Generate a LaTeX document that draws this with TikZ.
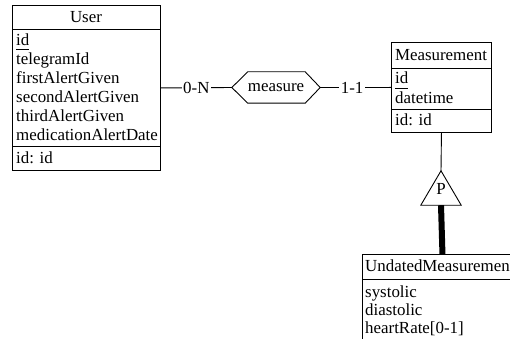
\documentclass[tikz,border=0pt]{standalone}
\usepackage{fontspec}
\setmainfont{Liberation Serif}
\newcommand\ulid[1]{\setbox0\hbox{#1}\rlap{\rule[-4.5pt]{\wd0}{0.9pt}}#1}
\begin{document}
\begin{tikzpicture}[x=1pt,y=-1pt,
  font=\fontsize{16.9}{19}\selectfont,
  ent/.style={draw,line width=0.9pt,anchor=north west,inner sep=0pt},
  txt/.style={anchor=base west,inner sep=0pt},
  ttl/.style={anchor=base,inner sep=0pt},
  card/.style={fill=white,inner sep=1.5pt},
  thin/.style={line width=0.9pt}]
\useasboundingbox (0,0) rectangle (510,339);
\fill[white] (0,0) rectangle (510,339);
\clip (0,0) rectangle (510,339);
% User entity
\node[ent,minimum width=148pt,minimum height=165pt] (user) at (12,5) {};
\draw[thin] (12,29) -- (160,29);
\draw[thin] (12,146) -- (160,146);
\node[ttl] (userT) at (86,22.5) {User};
\node[txt] (u1) at (16,45.5) {\ulid{id}};
\node[txt] (u2) at (16,64.5) {telegramId};
\node[txt] (u3) at (16,83.5) {firstAlertGiven};
\node[txt] (u4) at (16,102.5) {secondAlertGiven};
\node[txt] (u5) at (16,121.5) {thirdAlertGiven};
\node[txt] (u6) at (16,140.5) {medicationAlertDate};
\node[txt] (u7) at (16,163.5) {id: id};
% Measurement entity
\node[ent,minimum width=100pt,minimum height=90pt] (meas) at (391,42) {};
\draw[thin] (391,68) -- (491,68);
\draw[thin] (391,109) -- (491,109);
\node[ttl] (measT) at (441,60.5) {Measurement};
\node[txt] (m1) at (395,84) {\ulid{id}};
\node[txt] (m2) at (395,104) {datetime};
\node[txt] (m3) at (395,125.5) {id: id};
% Undated entity
\node[ent,minimum width=160pt,minimum height=120pt] (und) at (362,254) {};
\draw[thin] (362,279) -- (522,279);
\node[txt] (undT) at (365,271.5) {UndatedMeasurement};
\node[txt] (d1) at (365,297.5) {systolic};
\node[txt] (d2) at (365,315.5) {diastolic};
\node[txt] (d3) at (365,333.5) {heartRate[0-1]};
% relationship
\node[inner sep=0pt,minimum width=88pt,minimum height=31pt] (rel) at (276,87.5) {measure};
\draw[thin] (rel.west) -- ([xshift=16pt]rel.north west) -- ([xshift=-15pt]rel.north east)
  -- (rel.east) -- ([xshift=-15pt]rel.south east) -- ([xshift=16pt]rel.south west) -- cycle;
\draw[thin] (user.east) -- node[card,pos=0.5]{0-N} (rel.west);
\draw[thin] (rel.east) -- node[card,pos=0.45]{1-1} (meas.west);
% ISA
\node[inner sep=0pt,minimum width=40pt,minimum height=34pt] (isa) at (441,188) {};
\node[ttl] (isaP) at (441,194) {P};
\draw[thin] (isa.south west) -- (isa.north) -- (isa.south east) -- cycle;
\draw[thin] (meas.south) -- (isa.north);
\draw[line width=6pt] (isa.south) -- (und.north);
\end{tikzpicture}
\end{document}
